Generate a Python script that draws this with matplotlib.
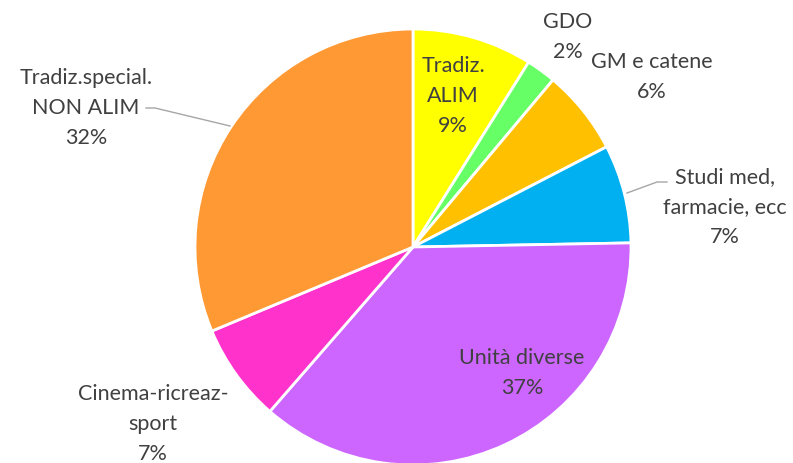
import matplotlib
matplotlib.use('Agg')
import matplotlib.pyplot as plt

# Data
categories = ['Tradiz.\nALIM', 'GDO', 'GM e catene', 'Studi med,\nfarmacie, ecc',
              'Unità diverse', 'Cinema-ricreaz-\nsport', 'Tradiz.special.\nNON ALIM']
values = [8.9, 2.2, 6.3, 7.3, 36.7, 7.3, 31.3]
pct_labels = ['9%', '2%', '6%', '7%', '37%', '7%', '32%']
colors = ['#FFFF00', '#66FF66', '#FFC000', '#00B0F0', '#CC66FF', '#FF33CC', '#FF9933']

W, H = 793, 463
cx, cy, R = 413, 247, 218

fig = plt.figure(figsize=(W / 100, H / 100), dpi=100)
ax = fig.add_axes([(cx - R) / W, (H - cy - R) / H, 2 * R / W, 2 * R / H])
ax.pie(values, colors=colors, startangle=90, counterclock=False, radius=1,
       wedgeprops=dict(edgecolor='white', linewidth=2))
ax.set_xlim(-1, 1)
ax.set_ylim(-1, 1)
ax.set_aspect('equal')
ax.axis('off')

#Label positions in pixels (center of text block)
label_px = [(453, 96), (568, 37), (652, 77), (725, 207), (522, 373), (153, 424), (86, 108)]

def to_data(px, py):
    return (px - cx) / R, (cy - py) / R

for cat, pct, (px, py) in zip(categories, pct_labels, label_px):
    x, y = to_data(px, py)
    ax.text(x, y, cat + '\n' + pct, ha='center', va='center', fontsize=15.5,
            color='#404040', family='Lato', linespacing=1.6, clip_on=False)

#Leader lines
for pts in [[(627, 193), (657, 182), (667, 182)], [(230, 126), (155, 108), (146, 108)]]:
    xs, ys = zip(*[to_data(p, q) for p, q in pts])
    ax.plot(xs, ys, color='#A6A6A6', linewidth=1, clip_on=False)

fig.savefig('out.png', dpi=100)
